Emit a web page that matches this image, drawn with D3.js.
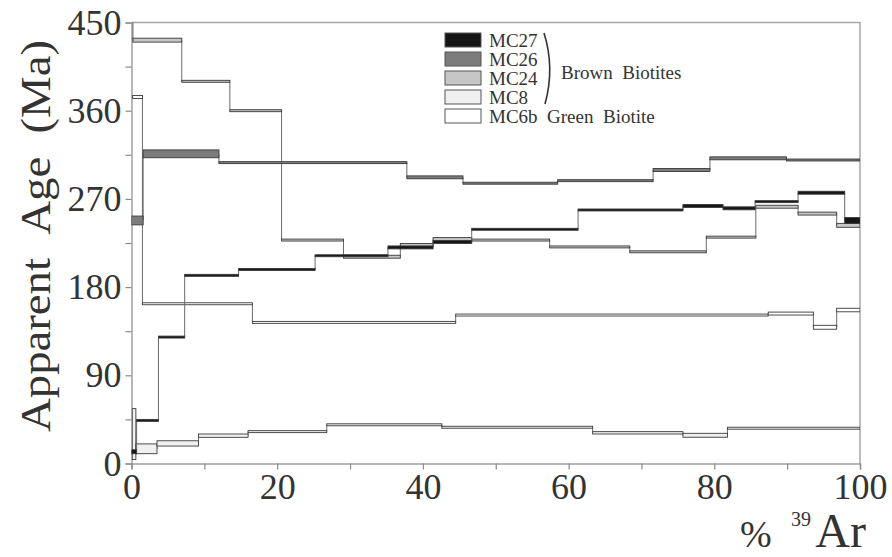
<!DOCTYPE html>
<html><head><meta charset="utf-8">
<script src="https://cdn.jsdelivr.net/npm/d3@7"></script>
<style>
body{margin:0;background:#fff}
svg{display:block}
text{font-family:"Liberation Serif","Times New Roman",serif;fill:#333}
</style>
</head><body>
<svg id="c" width="892" height="557"></svg>
<script>
// ---- DATA (cumulative %39Ar step boundaries, apparent ages in Ma, errors in Ma) ----
const sampleNames = ["MC27","MC26","MC24","MC8","MC6b"];

const mc27Bounds = [0,0.7,3.7,7.3,14.7,25.2,35.2,41.4,46.7,61.3,75.7,81.2,85.6,91.5,97.9,100];
const mc27Ages   = [12,44,129,192,198,212,220.5,226,239,258.7,262.8,260.4,267.2,276.3,248];
const mc27Errs   = [2,1,1,1,1,1,1.5,1.5,1,1,1.5,1.5,1,1.5,3];

const mc26Bounds = [0,1.6,12,37.8,45.5,58.5,71.6,79.4,89.9,100];
const mc26Ages   = [248,316,307,292,286,288.6,299.5,311.4,309.7];
const mc26Errs   = [4.5,4,1,1.5,1,1,1.5,1.5,1];

const mc24Bounds = [0,0.2,6.9,13.5,20.6,29.1,36.9,41.4,46.7,57.4,68.4,78.9,85.7,91.5,96.8,100];
const mc24Ages   = [480,432,390,360,228,211,223,228.5,228,221,216,231,262,255,243];
const mc24Errs   = [5,2,1,1,1,1.5,1.5,2,1,1,1,1,1.5,1.5,2];

const mc8Bounds  = [0.1,0.6,3.5,9.2,16,26.8,42.6,63.3,75.7,81.8,100];
const mc8Ages    = [30,15,20.5,28.4,32.5,39.5,37,31.3,28.8,36];
const mc8Errs    = [26,5,2.7,1.7,1,1,1,1.2,2,1];

const mc6bBounds = [0.15,1.5,16.6,44.5,87.4,93.6,96.8,100];
const mc6bAges   = [374,163,144,151.5,153,139,156.6];
const mc6bErrs   = [1.5,1,1,1,1.5,2,1.8];

const yTicks = [0,45,90,135,180,225,270,315,360,405,450];
const yLabels = [0,90,180,270,360,450];
const xTicks = [0,10,20,30,40,50,60,70,80,90,100];
const xLabels = [0,20,40,60,80,100];

// ---- STYLE ----
const sampleFill = {MC27:"#161616", MC26:"#7c7c7c", MC24:"#c6c6c6", MC8:"#f0f0f0", MC6b:"#ffffff"};
const m = {left:131.5, right:860, top:22.5, bottom:463.5};

const svg = d3.select("#c");
const x = d3.scaleLinear().domain([0,100]).range([m.left, m.right]);
const y = d3.scaleLinear().domain([0,450]).range([m.bottom, m.top]);

svg.append("defs").append("clipPath").attr("id","clip")
  .append("rect").attr("x",m.left).attr("y",m.top)
  .attr("width",m.right-m.left).attr("height",m.bottom-m.top);

// frame (top & right)
svg.append("path")
  .attr("d",`M${m.left},${m.top}H${m.right}V${m.bottom}`)
  .attr("fill","none").attr("stroke","#a8a8a8").attr("stroke-width",1.5);

// axes
const yAxis = d3.axisLeft(y).tickValues(yTicks).tickSize(6).tickPadding(4)
  .tickFormat(d => yLabels.includes(d) ? d : "");
const gy = svg.append("g").attr("transform",`translate(${m.left},0)`).call(yAxis);
const xAxis = d3.axisBottom(x).tickValues(xTicks).tickSize(6).tickPadding(4)
  .tickFormat(d => xLabels.includes(d) ? d : "");
const gx = svg.append("g").attr("transform",`translate(0,${m.bottom})`).call(xAxis);
[gx,gy].forEach(g=>{
  g.select(".domain").attr("stroke","#a0a0a0").attr("stroke-width",1.5);
  g.selectAll(".tick line").attr("stroke","#8a8a8a").attr("stroke-width",1.2);
  g.selectAll(".tick text").style("font-family",'"Liberation Serif",serif')
    .style("font-size","36px").attr("fill","#3a3a3a");
});
gx.selectAll(".tick text").attr("dy","0.72em");

// spectra
const spectra = [
  {name:"MC6b", b:mc6bBounds, a:mc6bAges, e:mc6bErrs},
  {name:"MC8",  b:mc8Bounds,  a:mc8Ages,  e:mc8Errs},
  {name:"MC24", b:mc24Bounds, a:mc24Ages, e:mc24Errs},
  {name:"MC26", b:mc26Bounds, a:mc26Ages, e:mc26Errs},
  {name:"MC27", b:mc27Bounds, a:mc27Ages, e:mc27Errs}
];
const plot = svg.append("g").attr("clip-path","url(#clip)");
spectra.forEach(s=>{
  const g = plot.append("g");
  const steps = s.a.map((age,i)=>({x0:s.b[i], x1:s.b[i+1], age, err:s.e[i]}));
  for(let i=1;i<steps.length;i++){
    const p=steps[i-1], q=steps[i];
    const lo = Math.min(p.age,q.age), hi=Math.max(p.age,q.age);
    g.append("line").attr("x1",x(q.x0)).attr("x2",x(q.x0))
      .attr("y1",y(lo)).attr("y2",y(hi))
      .attr("stroke","#6a6a6a").attr("stroke-width",1);
  }
  g.selectAll("rect").data(steps).join("rect")
    .attr("x",d=>x(d.x0)).attr("width",d=>x(d.x1)-x(d.x0))
    .attr("y",d=>y(d.age+d.err)).attr("height",d=>y(d.age-d.err)-y(d.age+d.err))
    .attr("fill",sampleFill[s.name]).attr("stroke","#3a3a3a").attr("stroke-width",0.9);
});

// legend
const lg = svg.append("g");
const rowY = [40,59,78,97,116];
sampleNames.forEach((n,i)=>{
  lg.append("rect").attr("x",445).attr("y",rowY[i]-7).attr("width",36).attr("height",14)
    .attr("fill",sampleFill[n]).attr("stroke","#555").attr("stroke-width",1);
  lg.append("text").attr("x",489).attr("y",rowY[i]).attr("dy","0.35em")
    .style("font-size","19px").text(n + (n==="MC6b" ? "\u00a0\u00a0Green\u00a0\u00a0Biotite" : ""));
});
lg.append("path").attr("d","M544,33 Q555,68 545,104").attr("fill","none")
  .attr("stroke","#333").attr("stroke-width",1.6);
lg.append("text").attr("x",561).attr("y",72).attr("dy","0.35em")
  .style("font-size","19px").text("Brown\u00a0\u00a0Biotites");

// axis titles
svg.append("text").attr("transform","translate(50,236) rotate(-90)")
  .attr("text-anchor","middle").style("font-size","42px").attr("fill","#3a3a3a")
  .attr("textLength",392).attr("lengthAdjust","spacingAndGlyphs")
  .text("Apparent\u00a0\u00a0Age\u00a0\u00a0(Ma)");
svg.append("text").attr("x",740).attr("y",547).style("font-size","38px")
  .attr("fill","#3a3a3a").text("%");
svg.append("text").attr("x",791).attr("y",526).style("font-size","20px")
  .attr("fill","#3a3a3a").text("39");
svg.append("text").attr("x",866).attr("y",547).attr("text-anchor","end")
  .style("font-size","48px").attr("fill","#3a3a3a").text("Ar");
</script>
</body></html>
